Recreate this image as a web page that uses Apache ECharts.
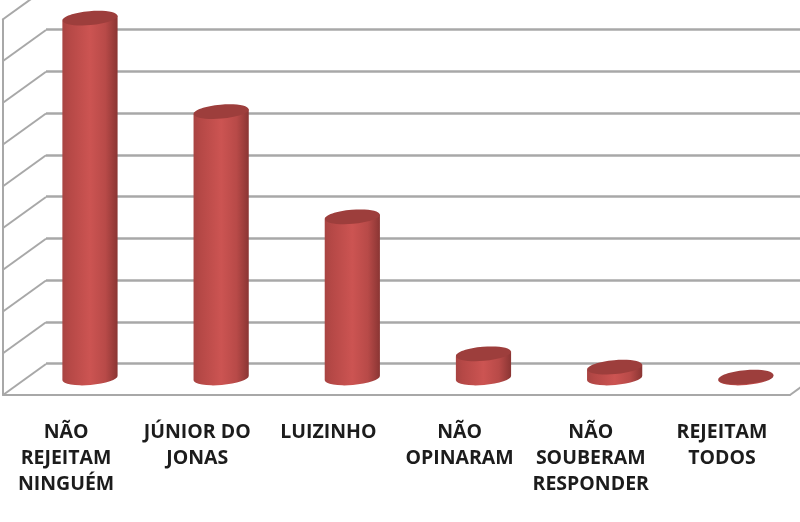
<!DOCTYPE html>
<html><head><meta charset="utf-8">
<style>html,body{margin:0;padding:0;background:#fff}#c{width:800px;height:522px}</style>
<script src="https://cdn.jsdelivr.net/npm/echarts@6/dist/echarts.min.js"></script>
</head><body><div id="c"></div>
<script>
const categories = ['NÃO\nREJEITAM\nNINGUÉM','JÚNIOR DO\nJONAS','LUIZINHO','NÃO\nOPINARAM','NÃO\nSOUBERAM\nRESPONDER','REJEITAM\nTODOS'];
const values = [43.1, 31.9, 19.3, 2.9, 1.3, 0.1];
const tickValues = [0,5,10,15,20,25,30,35,40,45];

const GRAY = '#a8a8a8';
const DX = 43, DY = 31;          // depth of the 3D box
const BX = 21.4, BY = 17;        // cylinder base offset inside the box
const RX = 27.6, RY = 7, TILT = 0.085;

const chart = echarts.init(document.getElementById('c'), null, {renderer:'canvas'});

function cylinder(params, api){
  const base = api.coord([api.value(0), 0]);
  const top = api.coord([api.value(0), api.value(1)]);
  const cx = base[0] + BX, by = base[1] - BY, ty = top[1] - BY;
  const t = RX * Math.sin(TILT), rx = RX;
  const l = cx - rx, r = cx + rx;
  const deg = TILT * 180 / Math.PI;
  const d = `M${l} ${ty+t}L${l} ${by+t}A${rx} ${RY} ${-deg} 0 0 ${r} ${by-t}L${r} ${ty-t}Z`;
  return {type:'group', children:[
    {type:'path', shape:{pathData:d}, style:{fill:{type:'linear',x:0,y:0,x2:1,y2:0,colorStops:[
      {offset:0,color:'#a84442'},{offset:.12,color:'#b54846'},{offset:.5,color:'#cc5452'},
      {offset:.78,color:'#b84a48'},{offset:1,color:'#8a3533'}]}}},
    {type:'ellipse', shape:{cx:0,cy:0,rx:rx,ry:RY}, x:cx, y:ty, rotation:TILT,
      style:{fill:'#9d3e3c'}}
  ]};
}
function walls(params, api){
  const y = api.coord([0, api.value(1)])[1];
  const cs = params.coordSys;
  const lines = [{type:'line', shape:{x1:cs.x, y1:y, x2:cs.x+DX, y2:y-DY}, style:{stroke:GRAY, lineWidth:2}}];
  if (api.value(1) === 0) lines.push({type:'line', shape:{x1:cs.x+cs.width, y1:y, x2:cs.x+cs.width+DX, y2:y-DY}, style:{stroke:GRAY, lineWidth:2}});
  return {type:'group', children:lines};
}

chart.setOption({
  animation:false,
  backgroundColor:'#fff',
  grid:[
    {left:3, width:787, bottom:127, height:375.75},
    {left:3+DX, width:787, bottom:127+DY+0.5, height:334}
  ],
  xAxis:[
    {gridIndex:0, type:'category', data:categories, boundaryGap:true,
     axisLine:{lineStyle:{color:GRAY,width:2}},
     axisTick:{length:7,lineStyle:{color:GRAY,width:2}},
     axisLabel:{interval:0, margin:24, padding:[0,5,0,0], color:'#1c1c1c', fontFamily:'Open Sans', fontWeight:'bold', fontSize:19.5, lineHeight:26}},
    {gridIndex:1, type:'category', data:categories, show:false}
  ],
  yAxis:[
    {gridIndex:0, type:'value', min:0, max:45, interval:5,
     axisLine:{show:true,lineStyle:{color:GRAY,width:2}}, axisTick:{show:false}, axisLabel:{show:false}, splitLine:{show:false}},
    {gridIndex:1, type:'value', min:0, max:40, interval:5,
     axisLine:{show:false}, axisTick:{show:false}, axisLabel:{show:false},
     splitLine:{show:true,lineStyle:{color:GRAY,width:2.5,type:'solid'}}}
  ],
  series:[
    {type:'custom', coordinateSystem:'cartesian2d', xAxisIndex:0, yAxisIndex:0, renderItem:walls, silent:true, z:1,
     clip:false, encode:{x:0,y:1}, data:tickValues.map(v=>[0,v])},
    {type:'custom', coordinateSystem:'cartesian2d', xAxisIndex:0, yAxisIndex:0, renderItem:cylinder, z:3,
     clip:false, encode:{x:0,y:1}, data:values.map((v,i)=>[i,v])}
  ]
});
</script></body></html>
